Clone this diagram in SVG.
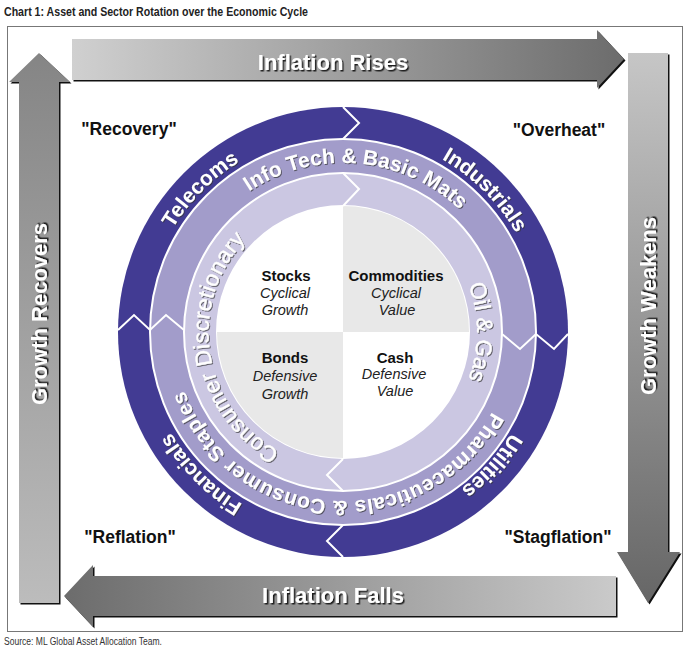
<svg xmlns="http://www.w3.org/2000/svg" xmlns:xlink="http://www.w3.org/1999/xlink" width="688" height="651" viewBox="0 0 688 651">
<style>
text{font-family:"Liberation Sans",Arial,sans-serif}
.title{font-size:13px;font-weight:bold;fill:#222}
.src{font-size:10px;fill:#333}
.arr{font-size:22px;font-weight:bold;fill:#fff;filter:url(#ash)}
.phase{font-size:17.5px;font-weight:bold;fill:#111;text-anchor:middle}
.ring{font-size:21px;font-weight:bold;fill:#fff;filter:url(#rsh)}
.ring2{font-size:22.5px;font-weight:normal;fill:#fff;stroke:#fff;stroke-width:0.4;filter:url(#rsh)}
.qb{font-size:15px;font-weight:bold;fill:#111;text-anchor:middle}
.qi{font-size:14.5px;font-style:italic;fill:#222;text-anchor:middle}
.chev{fill:none;stroke:#fff;stroke-width:2}
.shadow{fill:#111}
</style>
<defs>
<filter id="ash" x="-10%" y="-30%" width="120%" height="160%"><feDropShadow dx="1.5" dy="1.5" stdDeviation="0.5" flood-color="#000" flood-opacity="0.8"/></filter>
<filter id="rsh" x="-10%" y="-30%" width="120%" height="160%"><feDropShadow dx="1" dy="1" stdDeviation="0.6" flood-color="#333" flood-opacity="0.7"/></filter>
<linearGradient id="gTop" gradientUnits="userSpaceOnUse" x1="72" y1="0" x2="624" y2="0"><stop offset="0" stop-color="#d0d0d0"/><stop offset="1" stop-color="#6c6c6c"/></linearGradient>
<linearGradient id="gRight" gradientUnits="userSpaceOnUse" x1="0" y1="53" x2="0" y2="603"><stop offset="0" stop-color="#c6c6c6"/><stop offset="1" stop-color="#666"/></linearGradient>
<linearGradient id="gBot" gradientUnits="userSpaceOnUse" x1="616" y1="0" x2="64" y2="0"><stop offset="0" stop-color="#cacaca"/><stop offset="1" stop-color="#6c6c6c"/></linearGradient>
<linearGradient id="gLeft" gradientUnits="userSpaceOnUse" x1="0" y1="603" x2="0" y2="53"><stop offset="0" stop-color="#bcbcbc"/><stop offset="1" stop-color="#858585"/></linearGradient>
<path id="pTele" d="M201.58,473.42 A200,200 0 0 1 484.42,190.58"/>
<path id="pInd" d="M201.58,190.58 A200,200 0 0 1 484.42,473.42"/>
<path id="pUti" d="M476.8,183.4 A200,200 0 0 1 209.2,480.6"/>
<path id="pFin" d="M484.42,473.42 A200,200 0 0 1 201.58,190.58"/>
<path id="pInfo" d="M174.6,317.3 A169,169 0 0 1 511.4,346.7"/>
<path id="pPharma" d="M511.6,343.8 A169,169 0 0 1 174.4,320.2"/>
<path id="pCons" d="M364.1,465.3 A134,134 0 0 1 321.9,199.7"/>
<path id="pOil" d="M343,198 A134,134 0 0 1 343,466"/>
</defs>

<rect width="688" height="651" fill="#fff"/>
<text class="title" x="4" y="16" textLength="304" lengthAdjust="spacingAndGlyphs">Chart 1: Asset and Sector Rotation over the Economic Cycle</text>
<rect x="7.5" y="26.5" width="675" height="605" fill="#fff" stroke="#777" stroke-width="1"/>

<g id="arrow-inflation-rises">
<path class="shadow" transform="translate(1.5,1.5)" d="M72,39 H597 V30 L624,59 L597,88 V80 H72 Z"/>
<path fill="url(#gTop)" d="M72,39 H597 V30 L624,59 L597,88 V80 H72 Z"/>
<text class="arr" x="333" y="70" text-anchor="middle">Inflation Rises</text>
</g>
<g id="arrow-growth-weakens">
<path class="shadow" transform="translate(1.5,1.5)" d="M628,53 H668 V552 H680 L648,603 L617,552 H628 Z"/>
<path fill="url(#gRight)" d="M628,53 H668 V552 H680 L648,603 L617,552 H628 Z"/>
<text class="arr" transform="translate(656,306) rotate(-90)" x="0" y="0" text-anchor="middle">Growth Weakens</text>
</g>
<g id="arrow-inflation-falls">
<path class="shadow" transform="translate(1.5,1.5)" d="M616,576 V616 H93 V627 L64,596 L93,565 V576 Z"/>
<path fill="url(#gBot)" d="M616,576 V616 H93 V627 L64,596 L93,565 V576 Z"/>
<text class="arr" x="333" y="603" text-anchor="middle">Inflation Falls</text>
</g>
<g id="arrow-growth-recovers">
<path class="shadow" transform="translate(1.5,1.5)" d="M19,603 V82 H9 L39,53 L70,82 H59 V603 Z"/>
<path fill="url(#gLeft)" d="M19,603 V82 H9 L39,53 L70,82 H59 V603 Z"/>
<text class="arr" transform="translate(47,314) rotate(-90)" x="0" y="0" text-anchor="middle">Growth Recovers</text>
</g>

<g id="phase-recovery"><text class="phase" x="129" y="135">"Recovery"</text></g>
<g id="phase-overheat"><text class="phase" x="559" y="136">"Overheat"</text></g>
<g id="phase-reflation"><text class="phase" x="130" y="543">"Reflation"</text></g>
<g id="phase-stagflation"><text class="phase" x="558" y="543">"Stagflation"</text></g>

<g id="wheel">
<circle cx="343" cy="332" r="225" fill="#423b93"/>
<circle cx="343" cy="332" r="193" fill="#a29cca" stroke="#fff" stroke-width="2"/>
<circle cx="343" cy="332" r="159" fill="#cbc7e2" stroke="#fff" stroke-width="2"/>
<circle cx="343" cy="332" r="126" fill="#fff" stroke="#fff" stroke-width="2"/>
<path d="M343,332 L343,206 A126,126 0 0 1 469,332 Z" fill="#e8e8e8"/>
<path d="M343,332 L343,458 A126,126 0 0 1 217,332 Z" fill="#e8e8e8"/>
</g>

<g id="connectors">
<polyline class="chev" points="343,107 359,123 343,139"/>
<polyline class="chev" points="343,173 359,189 343,206"/>
<polyline class="chev" points="118,330 134,315 150,330 166,315 184,330"/>
<polyline class="chev" points="502,334 520,349 536,334 554,349 568,334"/>
<polyline class="chev" points="343,525 327,541 343,557"/>
<polyline class="chev" points="343,459 327,475 343,491"/>
</g>

<g id="sector-telecoms"><text class="ring"><textPath xlink:href="#pTele" href="#pTele" startOffset="50%" text-anchor="middle">Telecoms</textPath></text></g>
<g id="sector-industrials"><text class="ring"><textPath xlink:href="#pInd" href="#pInd" startOffset="50%" text-anchor="middle">Industrials</textPath></text></g>
<g id="sector-utilities"><text class="ring"><textPath xlink:href="#pUti" href="#pUti" startOffset="50%" text-anchor="middle">Utilities</textPath></text></g>
<g id="sector-financials"><text class="ring"><textPath xlink:href="#pFin" href="#pFin" startOffset="50%" text-anchor="middle">Financials</textPath></text></g>
<g id="sector-infotech"><text class="ring"><textPath xlink:href="#pInfo" href="#pInfo" startOffset="50%" text-anchor="middle">Info Tech &amp; Basic Mats</textPath></text></g>
<g id="sector-pharma"><text class="ring" letter-spacing="0.3"><textPath xlink:href="#pPharma" href="#pPharma" startOffset="50%" text-anchor="middle">Pharmaceuticals &amp; Consumer Staples</textPath></text></g>
<g id="sector-consdisc"><text class="ring2" letter-spacing="0.3"><textPath xlink:href="#pCons" href="#pCons" startOffset="50%" text-anchor="middle">Consumer Discretionary</textPath></text></g>
<g id="sector-oilgas"><text class="ring2"><textPath xlink:href="#pOil" href="#pOil" startOffset="50%" text-anchor="middle">Oil &amp; Gas</textPath></text></g>

<g id="asset-stocks"><text class="qb" x="286" y="281">Stocks</text><text class="qi" x="285" y="298">Cyclical</text><text class="qi" x="285" y="315">Growth</text></g>
<g id="asset-commodities"><text class="qb" x="396" y="281">Commodities</text><text class="qi" x="396" y="298">Cyclical</text><text class="qi" x="397" y="315">Value</text></g>
<g id="asset-bonds"><text class="qb" x="285" y="363">Bonds</text><text class="qi" x="285" y="381">Defensive</text><text class="qi" x="285" y="399">Growth</text></g>
<g id="asset-cash"><text class="qb" x="395" y="363">Cash</text><text class="qi" x="394" y="379">Defensive</text><text class="qi" x="395" y="396">Value</text></g>

<text class="src" x="4" y="645" textLength="158" lengthAdjust="spacingAndGlyphs">Source: ML Global Asset Allocation Team.</text>
</svg>
